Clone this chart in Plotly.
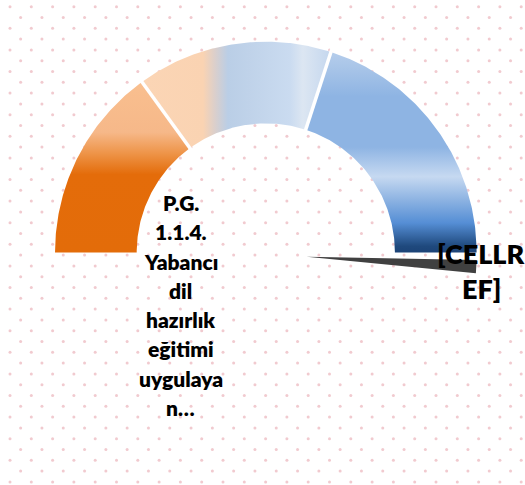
import numpy as np
import plotly.graph_objects as go

# ---------------- data ----------------
segment_values = [30, 30, 40]          # visible gauge bands (sum = gauge max)
gauge_max = 100
needle_value = 100.5                   # pointer position on the gauge scale
needle_width = 2.6                     # pointer thickness on the gauge scale
center_label_lines = ["P.G.", "1.1.4.", "Yabancı", "dil", "hazırlık",
                      "eğitimi", "uygulaya", "n…"]
needle_label_lines = ["[CELLR", "EF]"]

# ---------------- styles ----------------
seg_gradients = [
    dict(type="vertical", start=0, stop=1,
         colorscale=[[0, "#E36C09"], [0.37, "#E46C0A"], [0.47, "#EE9448"],
                     [0.57, "#F6B889"], [0.80, "#F9BF8F"], [1, "#F9BF8F"]]),
    dict(type="horizontal", start=-1, stop=1,
         colorscale=[[0, "#FBD5B5"], [0.21, "#FBD5B5"], [0.351, "#FAD3B2"],
                     [0.38, "#DACFCC"], [0.41, "#BACEE6"], [0.557, "#CADBF0"],
                     [0.588, "#DCE6F2"], [0.657, "#C3D6EE"], [1, "#C3D6EE"]]),
    dict(type="vertical", start=0, stop=1,
         colorscale=[[0, "#1C4377"], [0.03, "#1F497D"], [0.14, "#558ED5"],
                     [0.25, "#8DB3E2"], [0.36, "#C6D9F1"], [0.50, "#8EB4E3"],
                     [0.74, "#8EB4E3"], [0.88, "#A9C5E8"], [1, "#BDD3EE"]]),
]

W, H = 525, 485
CX, CY, S = 265.8, 252.5, 210.8      # gauge centre (px) and outer radius (px)
R_IN = 0.6125                         # inner radius relative to outer
NEEDLE_C = ((306.7 - CX) / S, (CY - 256.7) / S)
NEEDLE_R = 170.0 / S


def pu(x):
    return (x - CX) / S


def pv(y):
    return (CY - y) / S


def val2ang(v):
    return 180.0 - 180.0 * v / gauge_max


fig = go.Figure()

# dotted background pattern
rows = np.arange(0, 46)
dx, dy = [], []
for n in rows:
    yy = 6.7 + 10.8 * n
    xs = 10 + 21.3 * np.arange(0, 26) + (10.65 if n % 2 else 0)
    xs = xs[xs < W]
    dx.extend(pu(xs))
    dy.extend([pv(yy)] * len(xs))
fig.add_trace(go.Scatter(x=dx, y=dy, mode="markers",
                         marker=dict(size=3.0, color="rgba(228,150,160,0.5)"),
                         hoverinfo="skip"))

# gauge bands
cum = np.concatenate([[0], np.cumsum(segment_values)])
for i, val in enumerate(segment_values):
    a0, a1 = np.radians(val2ang(cum[i])), np.radians(val2ang(cum[i + 1]))
    t = np.linspace(a0, a1, 120)
    xs = np.concatenate([np.cos(t), R_IN * np.cos(t[::-1]), [np.cos(t[0])]])
    ys = np.concatenate([np.sin(t), R_IN * np.sin(t[::-1]), [np.sin(t[0])]])
    fig.add_trace(go.Scatter(x=xs, y=ys, mode="lines", line=dict(width=0),
                             fill="toself", fillgradient=seg_gradients[i],
                             hoverinfo="skip"))

# white separators between bands
for b in cum[1:-1]:
    a = np.radians(val2ang(b))
    fig.add_trace(go.Scatter(x=[R_IN * 0.97 * np.cos(a), 1.03 * np.cos(a)],
                             y=[R_IN * 0.97 * np.sin(a), 1.03 * np.sin(a)],
                             mode="lines", line=dict(color="white", width=3.5),
                             hoverinfo="skip"))

# needle
n0, n1 = np.radians(val2ang(needle_value)), np.radians(val2ang(needle_value + needle_width))
t = np.linspace(n0, n1, 20)
nx = np.concatenate([[NEEDLE_C[0]], NEEDLE_C[0] + NEEDLE_R * np.cos(t), [NEEDLE_C[0]]])
ny = np.concatenate([[NEEDLE_C[1]], NEEDLE_C[1] + NEEDLE_R * np.sin(t), [NEEDLE_C[1]]])
fig.add_trace(go.Scatter(x=nx, y=ny, mode="lines", line=dict(width=0),
                         fill="toself", fillcolor="#404040", hoverinfo="skip"))

annotations = []
fs1 = 21
for i, line in enumerate(center_label_lines):
    base = 210 + 29.3 * i
    annotations.append(dict(x=pu(180.5), y=pv(base - 0.36 * fs1), text=line,
                            showarrow=False, xanchor="center", yanchor="middle",
                            font=dict(family="Lato", size=fs1, color="#000000",
                                      weight=800)))
fs2 = 27
for i, line in enumerate(needle_label_lines):
    base = 263 + 35.3 * i
    annotations.append(dict(x=pu(481), y=pv(base - 0.36 * fs2), text=line,
                            showarrow=False, xanchor="center", yanchor="middle",
                            font=dict(family="Lato", size=fs2, color="#000000",
                                      weight=800)))

fig.update_layout(
    width=W, height=H, margin=dict(l=0, r=0, t=0, b=0),
    paper_bgcolor="white", plot_bgcolor="white", showlegend=False,
    xaxis=dict(visible=False, range=[pu(0), pu(W)], fixedrange=True),
    yaxis=dict(visible=False, range=[pv(H), pv(0)], fixedrange=True),
    annotations=annotations,
)

fig.write_html("out.html", config={"displayModeBar": False},
               post_script="document.body.style.margin='0';"
                           "document.body.style.overflow='hidden';")
